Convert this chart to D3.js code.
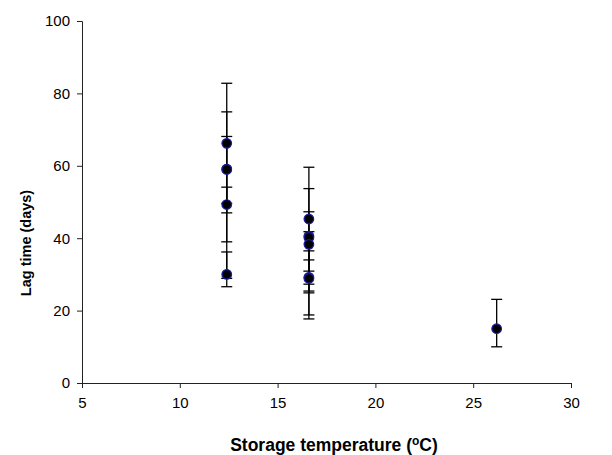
<!DOCTYPE html>
<html>
<head>
<meta charset="utf-8">
<style>
  body { margin: 0; background: #fff; }
  text { font-family: "Liberation Sans", Arial, sans-serif; }
</style>
</head>
<body>
<svg width="612" height="455"></svg>
<script src="https://d3js.org/d3.v7.min.js"></script>
<script>

// storage temperature (as plotted), lag time, error bar ends
var temps = [12.4, 12.4, 12.4, 12.4, 12.4,
             16.6, 16.6, 16.6, 16.6, 16.6, 16.6,
             26.2];
var lag   = [66.2, 59.1, 59.0, 49.3, 30.0,
             45.3, 40.6, 40.2, 38.3, 29.2, 28.9,
             15.0];
var lagHi = [82.8, 68.1, 74.9, 54.1, 36.2,
             59.6, 47.3, 53.7, 41.8, 36.5, 34.0,
             23.1];
var lagLo = [49.6, 47.0, 39.0, 28.9, 26.6,
             30.9, 25.4, 27.3, 24.9, 18.8, 17.7,
             10.0];

var xTicks = [5, 10, 15, 20, 25, 30];
var yTicks = [0, 20, 40, 60, 80, 100];

var data = lag.map(function(v, i) {
  return {t: temps[i], lag: v, hi: lagHi[i], lo: lagLo[i]};
});

var svg = d3.select("svg");

var x = d3.scaleLinear().domain([5, 30]).range([82, 571]);
var y = d3.scaleLinear().domain([0, 100]).range([383, 21]);

// axes
var xAxis = svg.append("g")
    .attr("transform", "translate(0," + y(0) + ")")
    .call(d3.axisBottom(x).tickValues(xTicks).tickSize(5).tickPadding(9));

var yAxis = svg.append("g")
    .attr("transform", "translate(" + x(5) + ",0)")
    .call(d3.axisLeft(y).tickValues(yTicks).tickSize(5).tickPadding(7));

[xAxis, yAxis].forEach(function(a) {
  a.select(".domain").attr("stroke", "#222");
  a.selectAll(".tick line").attr("stroke", "#222");
  a.selectAll(".tick text")
      .attr("fill", "#000")
      .style("font-size", "15px")
      .style("font-family", "'Liberation Sans', Arial, sans-serif");
});

// error bars
var bars = svg.append("g").attr("stroke", "#000").attr("stroke-width", 1.3);

bars.selectAll("line.v")
  .data(data)
  .enter().append("line")
    .attr("class", "v")
    .attr("x1", function(d) { return x(d.t); })
    .attr("x2", function(d) { return x(d.t); })
    .attr("y1", function(d) { return y(d.hi); })
    .attr("y2", function(d) { return y(d.lo); });

var caps = [];
data.forEach(function(d) { caps.push({t: d.t, v: d.hi}); caps.push({t: d.t, v: d.lo}); });

bars.selectAll("line.cap")
  .data(caps)
  .enter().append("line")
    .attr("class", "cap")
    .attr("x1", function(d) { return x(d.t) - 5.5; })
    .attr("x2", function(d) { return x(d.t) + 5.5; })
    .attr("y1", function(d) { return y(d.v); })
    .attr("y2", function(d) { return y(d.v); });

// points
svg.append("g")
  .selectAll("circle")
  .data(data)
  .enter().append("circle")
    .attr("cx", function(d) { return x(d.t); })
    .attr("cy", function(d) { return y(d.lag); })
    .attr("r", 4.8)
    .attr("fill", "#000")
    .attr("stroke", "#1c1c9c")
    .attr("stroke-width", 1.2);

// axis titles
var xt = svg.append("text")
    .attr("x", 334)
    .attr("y", 451)
    .attr("text-anchor", "middle")
    .style("font-size", "17.5px")
    .style("font-weight", "bold");
xt.append("tspan").text("Storage temperature (");
xt.append("tspan").attr("dy", "-6").style("font-size", "12px").text("o");
xt.append("tspan").attr("dy", "6").text("C)");

svg.append("text")
    .attr("transform", "translate(31,243) rotate(-90)")
    .attr("text-anchor", "middle")
    .style("font-size", "14.5px")
    .style("font-weight", "bold")
    .text("Lag time (days)");

</script>
</body>
</html>
